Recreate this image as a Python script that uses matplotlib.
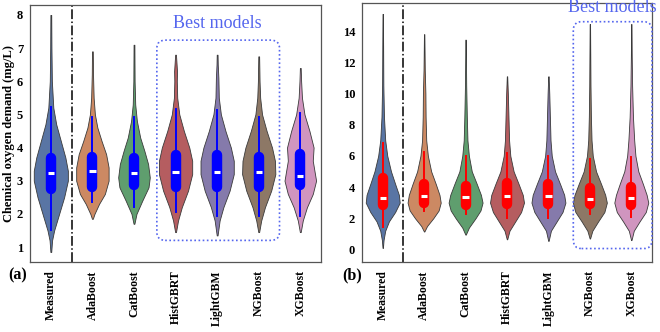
import colorsys
import numpy as np
import matplotlib
matplotlib.use("Agg")
import matplotlib.pyplot as plt
from matplotlib.patches import FancyBboxPatch

plt.rcParams['font.family'] = ['Liberation Serif', 'DejaVu Serif']

models = ["Measured", "AdaBoost", "CatBoost", "HistGBRT", "LightGBM", "NGBoost", "XGBoost"]
deep = ["#4C72B0", "#DD8452", "#55A868", "#C44E52", "#8172B3", "#937860", "#DA8BC3"]

# violin outlines: value levels and half widths
a_levels = [
    [0.85, 1.2, 1.5, 2.0, 2.5, 3.0, 3.3, 3.7, 4.2, 4.7, 5.2, 6.0, 7.0, 8.0],
    [1.85, 2.0, 2.3, 2.6, 3.0, 3.4, 3.8, 4.2, 4.6, 5.0, 5.5, 6.2, 6.9],
    [1.7, 2.0, 2.4, 2.8, 3.1, 3.5, 3.9, 4.3, 4.8, 5.3, 6.0, 7.1],
    [1.45, 1.8, 2.2, 2.7, 3.2, 3.6, 4.0, 4.5, 5.0, 5.5, 6.0, 6.3, 6.6, 6.8],
    [1.35, 1.8, 2.2, 2.7, 3.2, 3.6, 4.0, 4.5, 5.0, 5.5, 5.8, 6.1, 6.5, 6.8],
    [1.45, 1.8, 2.2, 2.7, 3.2, 3.6, 4.0, 4.5, 5.0, 5.5, 6.0, 6.4, 6.75],
    [1.45, 1.8, 2.2, 2.6, 3.0, 3.3, 3.6, 4.0, 4.5, 5.0, 5.5, 6.0, 6.4],
]
a_widths = [
    [0.01, 0.03, 0.08, 0.20, 0.32, 0.41, 0.41, 0.35, 0.24, 0.13, 0.06, 0.025, 0.015, 0.01],
    [0.01, 0.05, 0.16, 0.30, 0.39, 0.39, 0.33, 0.22, 0.12, 0.06, 0.03, 0.015, 0.01],
    [0.01, 0.06, 0.20, 0.35, 0.38, 0.34, 0.25, 0.15, 0.07, 0.03, 0.015, 0.01],
    [0.01, 0.06, 0.15, 0.30, 0.40, 0.40, 0.33, 0.20, 0.09, 0.04, 0.03, 0.035, 0.02, 0.01],
    [0.01, 0.06, 0.15, 0.30, 0.40, 0.40, 0.33, 0.20, 0.09, 0.04, 0.035, 0.03, 0.015, 0.01],
    [0.01, 0.06, 0.15, 0.30, 0.40, 0.39, 0.32, 0.19, 0.08, 0.035, 0.02, 0.015, 0.01],
    [0.01, 0.06, 0.16, 0.30, 0.38, 0.34, 0.30, 0.32, 0.22, 0.10, 0.04, 0.02, 0.01],
]
# q1, median, q3, lower whisker, upper whisker
a_box = [
    [2.59, 3.22, 3.83, 1.50, 5.22],
    [2.65, 3.28, 3.86, 2.35, 4.92],
    [2.71, 3.22, 3.83, 2.20, 4.92],
    [2.65, 3.26, 3.92, 2.05, 5.17],
    [2.65, 3.26, 3.92, 1.95, 5.14],
    [2.65, 3.26, 3.86, 1.94, 4.92],
    [2.70, 3.13, 3.95, 1.94, 5.04],
]

b_levels = [
    [0.1, 0.6, 1.2, 1.8, 2.4, 3.0, 3.5, 4.2, 5.0, 6.0, 7.0, 8.5, 10.5, 13.0, 15.1],
    [1.15, 1.5, 2.0, 2.5, 3.0, 3.5, 4.2, 5.0, 6.0, 7.0, 8.5, 10.0, 11.5, 13.8],
    [0.95, 1.4, 2.0, 2.5, 3.0, 3.5, 4.2, 5.0, 6.0, 7.0, 8.5, 10.5, 13.45],
    [0.65, 1.2, 1.8, 2.4, 3.0, 3.5, 4.2, 5.0, 6.0, 7.0, 8.5, 10.0, 11.1],
    [0.55, 1.2, 1.8, 2.4, 3.0, 3.5, 4.2, 5.0, 6.0, 7.0, 8.5, 10.0, 11.1],
    [0.7, 1.2, 1.8, 2.4, 3.0, 3.5, 4.2, 5.0, 6.0, 7.0, 8.5, 10.5, 12.5, 14.45],
    [0.6, 1.2, 1.8, 2.4, 3.0, 3.5, 4.2, 5.0, 6.0, 7.0, 8.5, 10.5, 12.5, 14.45],
]
b_widths = [
    [0.005, 0.02, 0.06, 0.15, 0.30, 0.41, 0.39, 0.30, 0.20, 0.11, 0.06, 0.03, 0.015, 0.01, 0.005],
    [0.005, 0.07, 0.22, 0.35, 0.40, 0.37, 0.28, 0.17, 0.09, 0.05, 0.035, 0.03, 0.015, 0.005],
    [0.005, 0.08, 0.24, 0.36, 0.41, 0.37, 0.27, 0.15, 0.08, 0.045, 0.03, 0.015, 0.005],
    [0.005, 0.06, 0.20, 0.34, 0.41, 0.38, 0.28, 0.16, 0.08, 0.05, 0.035, 0.02, 0.005],
    [0.005, 0.06, 0.20, 0.34, 0.41, 0.38, 0.28, 0.16, 0.08, 0.05, 0.035, 0.02, 0.005],
    [0.005, 0.06, 0.20, 0.35, 0.41, 0.37, 0.27, 0.15, 0.07, 0.04, 0.025, 0.015, 0.01, 0.005],
    [0.005, 0.06, 0.20, 0.35, 0.41, 0.37, 0.28, 0.17, 0.10, 0.07, 0.04, 0.02, 0.01, 0.005],
]
b_box = [
    [2.53, 3.30, 4.90, 1.45, 6.80],
    [2.64, 3.42, 4.55, 2.45, 6.27],
    [2.50, 3.35, 4.40, 2.30, 6.00],
    [2.60, 3.45, 4.60, 2.00, 6.20],
    [2.60, 3.40, 4.50, 2.00, 6.00],
    [2.55, 3.25, 4.30, 2.30, 5.80],
    [2.50, 3.30, 4.35, 2.10, 5.95],
]


def soft(c, sat=0.75):
    r, g, b = matplotlib.colors.to_rgb(c)
    h, l, s = colorsys.rgb_to_hls(r, g, b)
    return colorsys.hls_to_rgb(h, l, s * sat)


def panel(ax, levels, widths, box, ylim, inner, yticks):
    ax.set_xlim(-0.5, 6.5)
    ax.set_ylim(*ylim)
    fig_h = ax.get_position().height * ax.figure.get_size_inches()[1] * 72
    pt_per_unit = fig_h / (ylim[1] - ylim[0])
    box_lw = 7.5
    inset = (box_lw / 2) / pt_per_unit
    for i in range(len(models)):
        y = np.array(levels[i])
        w = np.array(widths[i])
        ax.fill_betweenx(y, i - w, i + w, facecolor=soft(deep[i]),
                         edgecolor="#3a3a3a", linewidth=0.6, zorder=2)
        q1, med, q3, lo, hi = box[i]
        ax.plot([i, i], [lo, hi], color=inner, lw=1.4, zorder=3)
        ax.plot([i, i], [q1 + inset, q3 - inset], color=inner, lw=box_lw,
                solid_capstyle="round", zorder=4)
        ax.plot([i - 0.075, i + 0.075], [med, med], color="white", lw=2.2,
                solid_capstyle="butt", zorder=5)
    ax.axvline(0.5, color="black", ls="-.", lw=1.1, zorder=1)
    ax.set_xticks(range(len(models)))
    ax.set_xticklabels(models, rotation=90, fontweight="bold", fontsize=8.5)
    ax.set_yticks(yticks)
    ax.set_yticklabels([str(t) for t in yticks], fontweight="bold", fontsize=9)
    ax.tick_params(axis="x", length=0, pad=6)
    ax.tick_params(axis="y", length=0, pad=5)
    for s in ax.spines.values():
        s.set_color("#555555")
        s.set_linewidth(0.9)


def best_box(ax, x0, x1, y0, y1, r):
    pos = ax.get_position()
    fw, fh = ax.figure.get_size_inches()
    xl = ax.get_xlim()
    yl = ax.get_ylim()
    px_x = pos.width * fw / (xl[1] - xl[0])
    px_y = pos.height * fh / (yl[1] - yl[0])
    p = FancyBboxPatch((x0, y0), x1 - x0, y1 - y0,
                       boxstyle="round,pad=0,rounding_size=%f" % r,
                       mutation_aspect=px_x / px_y,
                       fill=False, edgecolor="#5566ee", ls=(0, (1, 1.5)), lw=1.2,
                       zorder=6, clip_on=False)
    ax.add_patch(p)


fig = plt.figure(figsize=(6.6, 3.32), dpi=100)
ax1 = fig.add_axes([0.0455, 0.211, 0.441, 0.774])
ax2 = fig.add_axes([0.5485, 0.211, 0.4394, 0.780])

panel(ax1, a_levels, a_widths, a_box, (0.55, 8.3), "blue", [1, 2, 3, 4, 5, 6, 7, 8])
ax1.set_ylabel("Chemical oxygen demand (mg/L)", fontweight="bold", fontsize=9)
ax1.yaxis.set_label_coords(-0.052, 0.5)
best_box(ax1, 2.55, 5.5, 1.2, 7.24, 0.2)
ax1.text(4.0, 7.75, "Best models", color="#5566ee", fontsize=13, ha="center", va="center")

panel(ax2, b_levels, b_widths, b_box, (-0.8, 15.8), "red", [0, 2, 4, 6, 8, 10, 12, 14])
best_box(ax2, 4.6, 6.5, 0.06, 14.6, 0.2)
ax2.text(5.55, 15.5, "Best models", color="#5566ee", fontsize=13, ha="center", va="center")

fig.text(0.012, 0.17, "(a)", fontweight="bold", fontsize=11.5, ha="left", va="center")
fig.text(0.518, 0.17, "(b)", fontweight="bold", fontsize=11.5, ha="left", va="center")

fig.savefig("out.png", dpi=100)
